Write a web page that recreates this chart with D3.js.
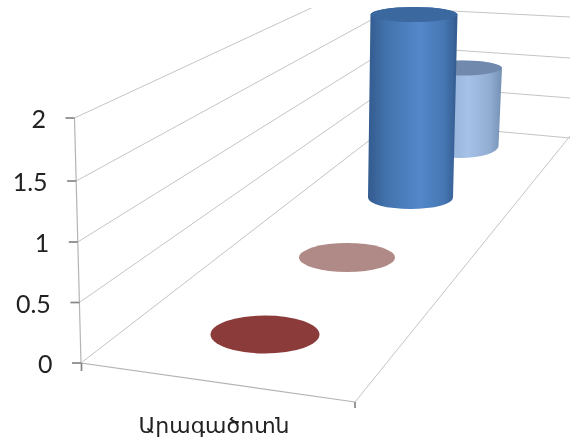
<!DOCTYPE html>
<html lang="hy">
<head>
<meta charset="utf-8">
<script src="https://cdn.jsdelivr.net/npm/d3@7"></script>
<style>
html,body{margin:0;padding:0;background:#fff}
svg{display:block}
text{fill:#222}
</style>
</head>
<body>
<svg id="c" width="570" height="441"></svg>
<script>
const categories = ["Արագածոտն"];
const tickValues = [0, 0.5, 1, 1.5, 2];
const seriesNames = ["Series 1", "Series 2", "Series 3", "Series 4"];
const seriesValues = [0, 0, 2, 1];
const seriesBase = ["#8c3a3a", "#b08a87", "#5388ca", "#a5c1e7"];
const seriesEdge = ["#8c3a3a", "#b08a87", "#335b8e", "#7490b3"];
const seriesTop = ["#8c3a3a", "#b08a87", "#3a679f", "#7189ac"];

const W = 570, H = 441;
const svg = d3.select("#c").attr("viewBox", [0, 0, W, H]);
const defs = svg.append("defs");
defs.append("clipPath").attr("id", "plotClip").append("rect").attr("y", 8).attr("width", W).attr("height", H - 8);
defs.append("filter").attr("id", "soft").append("feGaussianBlur").attr("stdDeviation", 0.45);

// Perspective layout: value -> position on the left wall, the back wall and the floor
const frontX = d3.scaleLinear().domain([0, 2]).range([81, 74.5]);
const frontY = d3.scaleLinear().domain([0, 0.5, 1, 1.5, 2]).range([363, 302.5, 242, 181, 118]);
const backX = d3.scaleLinear().domain([0, 2]).range([393, 393]);
const backY = d3.scaleLinear().domain([0, 0.5, 1, 1.5, 2]).range([122, 84, 46, 8, -30]);
const rightY = d3.scaleLinear().domain([0, 0.5, 1, 1.5, 2]).range([138, 98, 58, 17, -24]);

// depth position of each series along the floor
const idx = seriesNames.map((_, i) => i);
const cxS = d3.scaleOrdinal().domain(idx).range([265, 347, 410.5, 460]);
const cyS = d3.scaleOrdinal().domain(idx).range([334.5, 257.5, 197.5, 146]);
const rxS = d3.scaleOrdinal().domain(idx).range([54.5, 48, 42.5, 38.5]);
const ryS = d3.scaleOrdinal().domain(idx).range([19, 14.5, 11.5, 12]);
const unitS = d3.scaleOrdinal().domain(idx).range([120, 100, 91.5, 78]);
const topRxS = d3.scaleOrdinal().domain(idx).range([54.5, 48, 43.5, 40]);
const topRyS = d3.scaleOrdinal().domain(idx).range([19, 14.5, 7.5, 7.5]);
const leanS = d3.scaleOrdinal().domain(idx).range([0, 0, 3.5, 2]);

// Gradients for the cylinder sides
seriesNames.forEach((name, i) => {
  const grad = defs.append("linearGradient").attr("id", "g" + i);
  [[0, seriesEdge[i]], [0.2, d3.interpolateRgb(seriesEdge[i], seriesBase[i])(0.5)],
   [0.58, seriesBase[i]], [0.85, d3.interpolateRgb(seriesEdge[i], seriesBase[i])(0.6)], [1, seriesEdge[i]]].forEach(([o, c]) =>
    grad.append("stop").attr("offset", o).attr("stop-color", c));
});

const root = svg.append("g").attr("filter", "url(#soft)");
const plot = root.append("g").attr("clip-path", "url(#plotClip)");

// Gridlines (left wall + back wall)
const grid = plot.append("g").attr("fill", "none").attr("stroke", "#c4c4c4").attr("stroke-width", 1);
const line = d3.line();
tickValues.forEach(v => {
  grid.append("path").attr("d", line([
    [frontX(v), frontY(v)], [backX(v), backY(v)], [W, rightY(v)]
  ]));
});

// Axis lines and floor
const axes = root.append("g").attr("fill", "none").attr("stroke", "#b4b4b4").attr("stroke-width", 1.2);
axes.append("path").attr("d", line([[frontX(2), frontY(2)], [frontX(0), frontY(0)], [355, 402]]));
axes.append("path").attr("d", line([[355, 402], [W, 136]])).attr("stroke", "#c4c4c4").attr("stroke-width", 1);

// Tick marks
const ticks = root.append("g").attr("stroke", "#868686").attr("stroke-width", 1.7);
tickValues.forEach(v => {
  ticks.append("line").attr("x1", frontX(v) - 9).attr("x2", frontX(v)).attr("y1", frontY(v)).attr("y2", frontY(v));
});
ticks.append("line").attr("x1", 81.5).attr("x2", 81.5).attr("y1", 363).attr("y2", 371);
ticks.append("line").attr("x1", 355).attr("x2", 355).attr("y1", 402).attr("y2", 408);

// Value labels
root.append("g").attr("font-family", "Lato, 'Open Sans', sans-serif").attr("font-size", 25)
  .selectAll("text").data(tickValues).join("text")
  .attr("text-anchor", "end")
  .attr("x", v => frontX(v) - 28.5)
  .attr("y", v => frontY(v) + 10)
  .text(v => d3.format("~g")(v));

// Category label
root.append("text").data(categories)
  .attr("x", 214).attr("y", 433)
  .attr("text-anchor", "middle")
  .attr("font-family", "'Noto Sans', 'DejaVu Sans', sans-serif")
  .attr("font-size", 22)
  .text(d => d);

// Cylinders, drawn from the back to the front
idx.slice().reverse().forEach(i => {
  const v = seriesValues[i];
  const cx = cxS(i), cy = cyS(i), rx = rxS(i), ry = ryS(i);
  const g = root.append("g").datum(v);
  if (v > 0) {
    const tx = cx + leanS(i), ty = cy - v * unitS(i);
    const trx = topRxS(i), tr_y = topRyS(i);
    g.append("path")
      .attr("fill", `url(#g${i})`)
      .attr("d", `M${tx - trx},${ty} L${cx - rx},${cy} A${rx},${ry} 0 0 0 ${cx + rx},${cy} L${tx + trx},${ty} A${trx},${tr_y} 0 0 0 ${tx - trx},${ty}Z`);
    g.append("ellipse").attr("cx", tx).attr("cy", ty).attr("rx", trx).attr("ry", tr_y).attr("fill", seriesTop[i]);
  } else {
    g.append("ellipse").attr("cx", cx).attr("cy", cy).attr("rx", rx).attr("ry", ry).attr("fill", seriesTop[i]);
  }
});
</script>
</body>
</html>
